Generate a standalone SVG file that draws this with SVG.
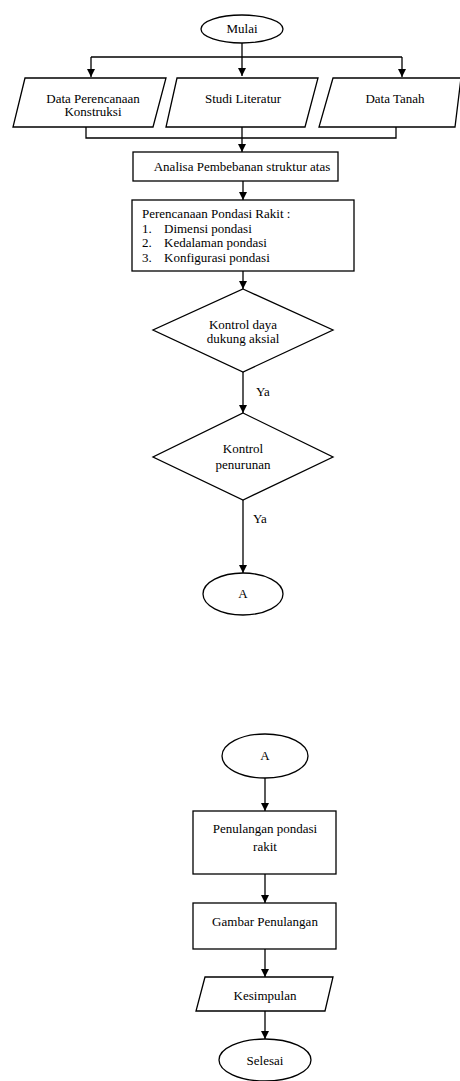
<svg xmlns="http://www.w3.org/2000/svg" width="460" height="1081" viewBox="0 0 460 1081">
<style>
.s{fill:#fff;stroke:#000;stroke-width:1.3}
.c{fill:none;stroke:#000;stroke-width:1.3}
text{font-family:"Liberation Serif","Times New Roman","DejaVu Serif",serif;font-size:13px;fill:#000}
.m{text-anchor:middle}
</style>
<defs>
<marker id="ah" markerWidth="8" markerHeight="8" viewBox="0 0 8 8" refX="8" refY="4" orient="auto" markerUnits="userSpaceOnUse">
<path d="M0,0 L8,4 L0,8 Z" fill="#000"/>
</marker>
</defs>
<rect width="460" height="1081" fill="#fff"/>
<g id="connectors">
<path class="c" d="M242,43 V76" marker-end="url(#ah)"/>
<path class="c" d="M91,57 H402"/>
<path class="c" d="M91,57 V77" marker-end="url(#ah)"/>
<path class="c" d="M402,57 V77" marker-end="url(#ah)"/>
<path class="c" d="M86,127 V138 H396 V127"/>
<path class="c" d="M242,127 V152" marker-end="url(#ah)"/>
<path class="c" d="M243,181 V200" marker-end="url(#ah)"/>
<path class="c" d="M243,271 V289" marker-end="url(#ah)"/>
<path class="c" d="M243,372 V413" marker-end="url(#ah)"/>
<path class="c" d="M243,500 V573" marker-end="url(#ah)"/>
<path class="c" d="M265,778 V811" marker-end="url(#ah)"/>
<path class="c" d="M265,874 V903" marker-end="url(#ah)"/>
<path class="c" d="M265,949 V977" marker-end="url(#ah)"/>
<path class="c" d="M265,1011 V1039" marker-end="url(#ah)"/>
<text x="256" y="396">Ya</text>
<text x="253" y="523">Ya</text>
</g>
<g id="mulai">
<ellipse class="s" cx="242" cy="29" rx="41" ry="14"/>
<text class="m" x="242" y="33">Mulai</text>
</g>
<g id="data-perencanaan">
<polygon class="s" points="25,78 166,78 153,127 13,127"/>
<text class="m" x="93" y="103">Data Perencanaan</text>
<text class="m" x="93" y="116">Konstruksi</text>
</g>
<g id="studi-literatur">
<polygon class="s" points="177,78 318,78 305,127 166,127"/>
<text class="m" x="243" y="103">Studi Literatur</text>
</g>
<g id="data-tanah">
<polygon class="s" points="333,78 461,78 455,127 319,127"/>
<text class="m" x="395" y="103">Data Tanah</text>
</g>
<g id="analisa">
<rect class="s" x="133" y="152" width="205" height="29"/>
<text class="m" x="242" y="171">Analisa Pembebanan struktur atas</text>
</g>
<g id="perencanaan">
<rect class="s" x="132" y="200" width="222" height="71"/>
<text x="142" y="218">Perencanaan Pondasi Rakit :</text>
<text x="142" y="233">1.</text><text x="164" y="233">Dimensi pondasi</text>
<text x="142" y="247">2.</text><text x="164" y="247">Kedalaman pondasi</text>
<text x="142" y="262">3.</text><text x="164" y="262">Konfigurasi pondasi</text>
</g>
<g id="kontrol-daya">
<polygon class="s" points="243,289 333,330 243,372 153,330"/>
<text class="m" x="243" y="329">Kontrol daya</text>
<text class="m" x="243" y="343">dukung aksial</text>
</g>
<g id="kontrol-penurunan">
<polygon class="s" points="243,413 333,457 243,500 153,457"/>
<text class="m" x="243" y="453">Kontrol</text>
<text class="m" x="243" y="469">penurunan</text>
</g>
<g id="a1">
<ellipse class="s" cx="243" cy="594" rx="40" ry="21"/>
<text class="m" x="243" y="598">A</text>
</g>
<g id="a2">
<ellipse class="s" cx="265" cy="756" rx="43" ry="22"/>
<text class="m" x="265" y="760">A</text>
</g>
<g id="penulangan">
<rect class="s" x="193" y="811" width="143" height="63"/>
<text class="m" x="265" y="833">Penulangan pondasi</text>
<text class="m" x="265" y="851">rakit</text>
</g>
<g id="gambar">
<rect class="s" x="193" y="903" width="143" height="46"/>
<text class="m" x="265" y="926">Gambar Penulangan</text>
</g>
<g id="kesimpulan">
<polygon class="s" points="205,977 333,977 325,1011 196,1011"/>
<text class="m" x="265" y="1000">Kesimpulan</text>
</g>
<g id="selesai">
<ellipse class="s" cx="265" cy="1060" rx="46" ry="21"/>
<text class="m" x="265" y="1065">Selesai</text>
</g>
</svg>
